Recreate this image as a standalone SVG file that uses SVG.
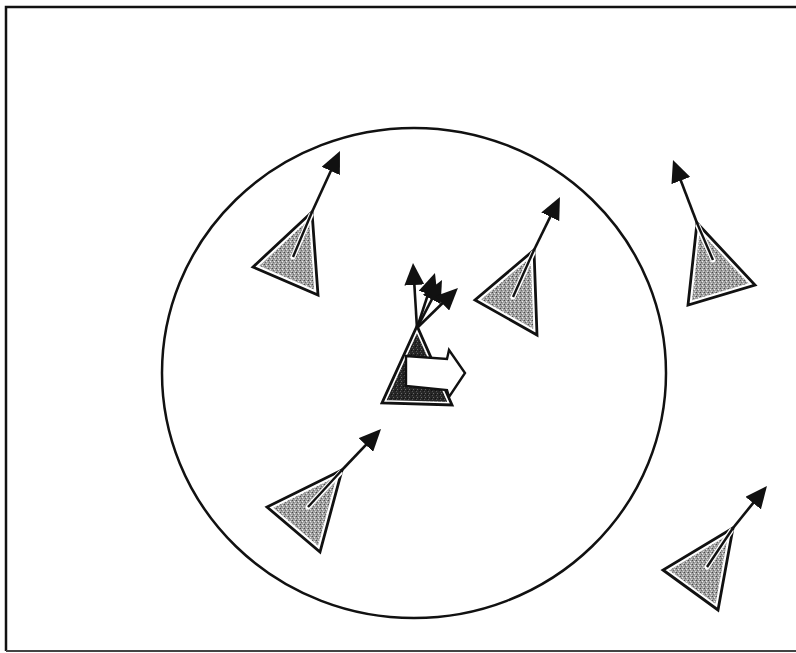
<svg xmlns="http://www.w3.org/2000/svg" width="796" height="653" viewBox="0 0 796 653">
<style>
.frame{fill:none;stroke:#111;stroke-width:2.5}
.frameb{fill:none;stroke:#444;stroke-width:2}
.circ{fill:none;stroke:#111;stroke-width:2.5}
.band{fill:url(#stip);stroke:#fff;stroke-width:7;stroke-linejoin:round}
.outl{fill:none;stroke:#111;stroke-width:2.8;stroke-linejoin:miter}
.halo{stroke:#fff;stroke-width:5;stroke-linecap:round}
.inner{stroke:#111;stroke-width:2.4}
.arr{stroke:#111;stroke-width:2.6;fill:none;marker-end:url(#ah)}
.dband{fill:url(#dstip);stroke:#fff;stroke-width:6;stroke-linejoin:round}
.warrow{fill:#fff;stroke:#111;stroke-width:2.4;stroke-linejoin:miter}
</style>
<defs>
<pattern id="stip" width="4" height="4" patternUnits="userSpaceOnUse">
<rect width="4" height="4" fill="#a2a2a2"/>
<rect x="0" y="0" width="1" height="1" fill="#4a4a4a"/>
<rect x="2" y="1" width="1" height="1" fill="#eee"/>
<rect x="1" y="2" width="1" height="1" fill="#6a6a6a"/>
<rect x="3" y="3" width="1" height="1" fill="#d8d8d8"/>
<rect x="3" y="0" width="1" height="1" fill="#8a8a8a"/>
</pattern>
<pattern id="dstip" width="4" height="4" patternUnits="userSpaceOnUse">
<rect width="4" height="4" fill="#262626"/>
<rect x="1" y="1" width="1" height="1" fill="#666"/>
<rect x="3" y="2" width="1" height="1" fill="#111"/>
<rect x="0" y="3" width="1" height="1" fill="#555"/>
</pattern>
<marker id="ah" markerUnits="userSpaceOnUse" viewBox="0 0 22 20" markerWidth="22" markerHeight="20" refX="6" refY="10" orient="auto">
<path d="M0,0 L22,10 L0,20 Z" fill="#111"/>
</marker>
</defs>

<g id="frame">
<path class="frame" d="M6,651 L6,7 L796,7"/>
<path class="frameb" d="M6,651 L796,651"/>
</g>

<g id="range-circle">
<ellipse class="circ" cx="414" cy="373" rx="252" ry="245"/>
</g>

<g id="agent-1">
<polygon class="band" points="312,212 253,267 318,295"/>
<polygon class="outl" points="312,212 253,267 318,295"/>
<line class="halo" x1="311" y1="215" x2="293" y2="257"/>
<line class="inner" x1="312" y1="212" x2="293" y2="257"/>
</g>

<g id="agent-2">
<polygon class="band" points="534,250 475,300 537,335"/>
<polygon class="outl" points="534,250 475,300 537,335"/>
<line class="halo" x1="533" y1="253" x2="513" y2="297"/>
<line class="inner" x1="534" y1="250" x2="513" y2="297"/>
</g>

<g id="agent-3">
<polygon class="band" points="697,223 688,305 755,285"/>
<polygon class="outl" points="697,223 688,305 755,285"/>
<line class="halo" x1="698" y1="226" x2="713" y2="260"/>
<line class="inner" x1="697" y1="223" x2="713" y2="260"/>
</g>

<g id="agent-4">
<polygon class="band" points="342,470 267,507 320,552"/>
<polygon class="outl" points="342,470 267,507 320,552"/>
<line class="halo" x1="340" y1="473" x2="308" y2="507"/>
<line class="inner" x1="342" y1="470" x2="308" y2="507"/>
</g>

<g id="agent-5">
<polygon class="band" points="733,528 663,570 718,610"/>
<polygon class="outl" points="733,528 663,570 718,610"/>
<line class="halo" x1="731" y1="531" x2="707" y2="567"/>
<line class="inner" x1="733" y1="528" x2="707" y2="567"/>
</g>

<g id="central-agent">
<polygon class="dband" points="417,326 382,403 452,405"/>
<polygon class="outl" points="417,326 382,403 452,405"/>
<polygon class="warrow" points="406,356 447,359 449,350 465,373 449,397 447,390 406,386"/>
</g>

<g id="connectors">
<line class="arr" x1="312" y1="212" x2="333.3" y2="165.5"/>
<line class="arr" x1="534" y1="250" x2="552.9" y2="211.4"/>
<line class="arr" x1="697" y1="223" x2="678.7" y2="175.0"/>
<line class="arr" x1="342" y1="470" x2="370.0" y2="440.6"/>
<line class="arr" x1="733" y1="528" x2="756.9" y2="498.4"/>
<line class="arr" x1="417" y1="328" x2="414.0" y2="279.0"/>
<line class="arr" x1="417" y1="328" x2="430.0" y2="288.2"/>
<line class="arr" x1="417" y1="328" x2="434.6" y2="294.2"/>
<line class="arr" x1="417" y1="328" x2="446.5" y2="299.2"/>
</g>
</svg>
